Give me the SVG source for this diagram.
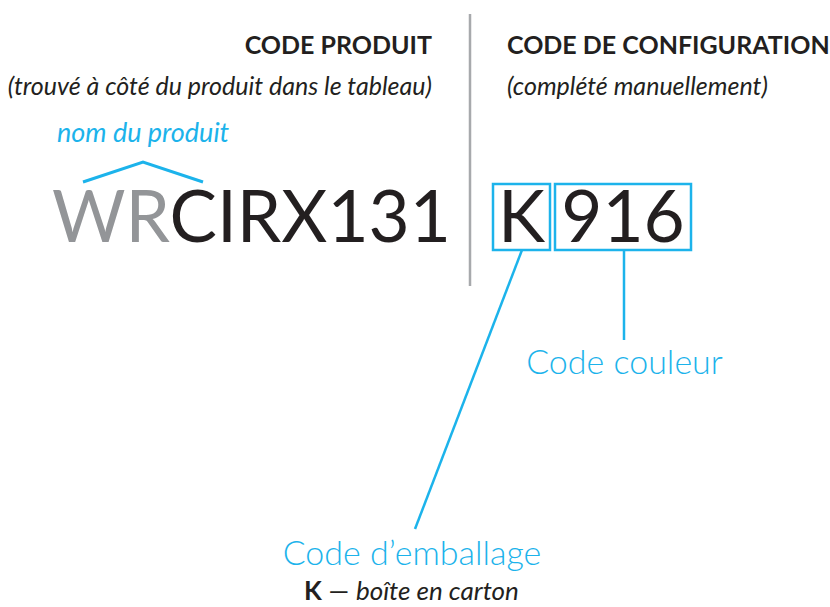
<svg xmlns="http://www.w3.org/2000/svg" width="830" height="607" viewBox="0 0 830 607">
<style>
.h{font-family:Lato,"Liberation Sans",sans-serif;font-weight:700;font-size:25px;fill:#231f20}
.s{font-family:Lato,"Liberation Sans",sans-serif;font-style:italic;font-size:25px;fill:#231f20}
.big{font-family:Lato,"Liberation Sans",sans-serif;font-weight:400;font-size:71px;fill:#231f20}
.lab{font-family:Lato,"Liberation Sans",sans-serif;font-weight:300;font-size:34px;fill:#1cb3eb}
.cy{stroke:#1cb3eb;fill:none}
</style>
<rect width="830" height="607" fill="#fff"/>
<line x1="470" y1="14" x2="470" y2="286" stroke="#a7a9ac" stroke-width="2.5"/>
<g id="code-produit">
<text class="h" x="432" y="54" text-anchor="end">CODE PRODUIT</text>
<text class="s" x="432" y="95" text-anchor="end">(trouvé à côté du produit dans le tableau)</text>
</g>
<g id="code-configuration">
<text class="h" x="507" y="54">CODE DE CONFIGURATION</text>
<text class="s" x="507" y="95">(complété manuellement)</text>
</g>
<g id="nom-produit">
<text x="57" y="142" font-family="Lato,'Liberation Sans',sans-serif" font-style="italic" font-size="27" fill="#1cb3eb">nom du produit</text>
<polyline class="cy" points="83,182 143,162 203,182" stroke-width="3"/>
</g>
<g id="code">
<text class="big" x="52" y="242"><tspan fill="#939598">WR</tspan>CIRX131</text>
</g>
<g id="k-box">
<rect class="cy" x="493" y="184" width="57" height="66" stroke-width="2.5"/>
<text class="big" x="521.5" y="242" text-anchor="middle">K</text>
</g>
<g id="code-couleur-box">
<rect class="cy" x="555" y="184" width="136" height="66" stroke-width="2.5"/>
<text class="big" x="623" y="242" text-anchor="middle">916</text>
</g>
<g id="connectors">
<line class="cy" x1="522" y1="250" x2="415" y2="529" stroke-width="2.5"/>
<line class="cy" x1="624" y1="250" x2="624" y2="340" stroke-width="2.5"/>
</g>
<g id="code-couleur">
<text class="lab" x="624.5" y="374" text-anchor="middle">Code couleur</text>
</g>
<g id="code-emballage">
<text class="lab" x="412" y="565" text-anchor="middle">Code d’emballage</text>
<text x="411.5" y="600" text-anchor="middle" font-family="Lato,'Liberation Sans',sans-serif" font-size="26" fill="#231f20"><tspan font-weight="700">K</tspan> — <tspan font-style="italic">boîte en carton</tspan></text>
</g>
</svg>
